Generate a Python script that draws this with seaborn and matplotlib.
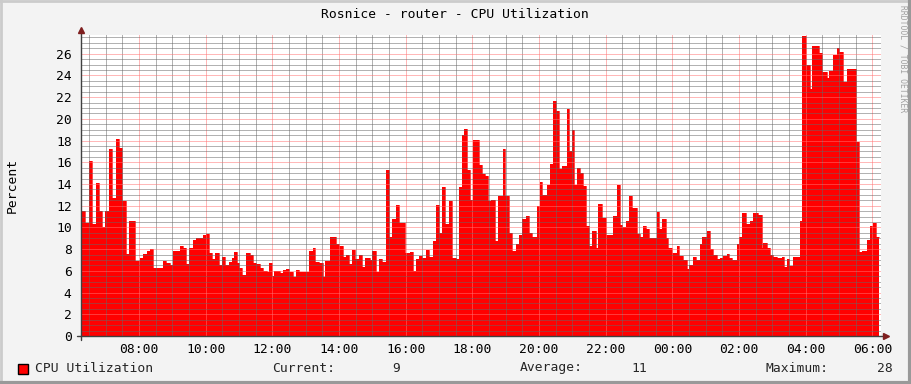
import numpy as np
import pandas as pd
import matplotlib
matplotlib.use("Agg")
import matplotlib.pyplot as plt
import matplotlib.dates as mdates
from matplotlib.ticker import MultipleLocator
from matplotlib.patches import Rectangle
from matplotlib.lines import Line2D
import seaborn as sns

# ---------------- data ----------------
title = "Rosnice - router - CPU Utilization"
series_name = "CPU Utilization"
y_label = "Percent"
watermark = "RRDTOOL / TOBI OETIKER"
stat_labels = ["Current:", "Average:", "Maximum:"]
stat_values = ["9", "11", "28"]

times = [
    "06:15", "06:17", "06:23", "06:30", "06:35", "06:43", "06:48", "06:53", "06:59", "07:06",
    "07:11", "07:19", "07:24", "07:29", "07:37", "07:42", "07:53", "08:02", "08:07", "08:14",
    "08:20", "08:25", "08:43", "08:49", "08:56", "09:01", "09:14", "09:19", "09:25", "09:30",
    "09:37", "09:43", "09:55", "10:01", "10:06", "10:11", "10:17", "10:24", "10:29", "10:35",
    "10:42", "10:47", "10:51", "10:56", "11:00", "11:05", "11:13", "11:20", "11:25", "11:31",
    "11:38", "11:43", "11:50", "11:54", "11:59", "12:03", "12:14", "12:19", "12:25", "12:30",
    "12:37", "12:43", "12:48", "13:06", "13:13", "13:17", "13:24", "13:31", "13:35", "13:44",
    "13:55", "14:00", "14:07", "14:13", "14:18", "14:23", "14:29", "14:36", "14:41", "14:47",
    "14:56", "14:59", "15:07", "15:12", "15:17", "15:25", "15:30", "15:35", "15:43", "15:48",
    "15:59", "16:08", "16:13", "16:19", "16:24", "16:29", "16:37", "16:42", "16:49", "16:55",
    "17:00", "17:05", "17:11", "17:18", "17:23", "17:31", "17:36", "17:41", "17:45", "17:50",
    "17:56", "18:01", "18:12", "18:17", "18:23", "18:28", "18:34", "18:41", "18:46", "18:55",
    "18:59", "19:06", "19:11", "19:19", "19:24", "19:29", "19:37", "19:42", "19:47", "19:56",
    "20:02", "20:05", "20:14", "20:20", "20:25", "20:31", "20:36", "20:41", "20:50", "20:54",
    "20:59", "21:03", "21:08", "21:14", "21:19", "21:25", "21:30", "21:35", "21:43", "21:46",
    "21:53", "22:01", "22:13", "22:20", "22:26", "22:29", "22:37", "22:42", "22:47", "22:56",
    "23:02", "23:07", "23:13", "23:18", "23:32", "23:36", "23:41", "23:49", "23:52", "23:59",
    "00:08", "00:12", "00:19", "00:26", "00:30", "00:37", "00:43", "00:50", "00:53", "01:02",
    "01:08", "01:13", "01:20", "01:26", "01:31", "01:38", "01:42", "01:47", "01:56", "02:00",
    "02:05", "02:13", "02:20", "02:25", "02:34", "02:41", "02:43", "02:50", "02:56", "03:01",
    "03:08", "03:17", "03:21", "03:26", "03:30", "03:37", "03:50", "03:53", "04:01", "04:08",
    "04:11", "04:24", "04:29", "04:38", "04:42", "04:49", "04:56", "05:00", "05:07", "05:14",
    "05:31", "05:36", "05:41", "05:50", "05:56", "06:01", "06:07", "06:12",
]
cpu = [
    9.15, 11.5, 10.4, 16.1, 10.3, 14.1, 11.5, 10.0, 11.5, 17.2,
    12.7, 18.1, 17.3, 12.4, 7.55, 10.6, 6.95, 7.15, 7.55, 7.85,
    8.05, 6.3, 6.9, 6.7, 6.5, 7.85, 8.3, 8.1, 6.6, 8.1,
    8.85, 9.05, 9.3, 9.4, 7.6, 7.05, 7.65, 6.5, 7.25, 6.55,
    6.85, 7.2, 7.7, 6.75, 6.25, 5.6, 7.6, 7.45, 6.7, 6.6,
    6.3, 6.0, 5.85, 6.7, 5.5, 6.0, 5.8, 6.1, 6.2, 5.85,
    5.4, 6.1, 5.85, 7.8, 8.1, 6.85, 6.7, 5.4, 6.9, 9.1,
    8.5, 8.3, 7.3, 7.45, 6.65, 7.9, 7.05, 7.5, 6.4, 7.2,
    7.0, 7.8, 5.85, 7.05, 6.85, 15.3, 9.15, 10.8, 12.1, 10.45,
    7.6, 7.7, 6.0, 7.05, 7.35, 7.2, 7.9, 7.3, 8.75, 12.1,
    9.5, 13.7, 10.3, 12.45, 7.2, 7.05, 13.7, 18.5, 19.05, 15.25,
    12.55, 18.05, 15.75, 14.9, 14.75, 12.4, 12.5, 8.75, 12.85, 17.2,
    12.9, 9.45, 7.85, 8.5, 9.3, 10.75, 11.05, 9.45, 9.1, 12.0,
    14.2, 13.0, 13.9, 15.85, 21.65, 20.75, 15.4, 15.7, 20.9, 17.0,
    19.0, 13.9, 15.45, 15.0, 13.85, 10.1, 8.3, 9.7, 8.1, 12.2,
    10.85, 9.3, 11.05, 13.9, 10.25, 10.0, 10.6, 12.9, 11.8, 9.4,
    9.1, 10.15, 9.85, 9.0, 11.45, 9.85, 10.8, 9.0, 8.1, 7.6,
    8.3, 7.35, 7.0, 6.2, 6.5, 7.25, 7.0, 8.5, 9.15, 9.7,
    8.0, 7.45, 7.05, 7.15, 7.35, 7.55, 7.2, 7.0, 8.5, 9.1,
    11.35, 10.3, 10.6, 11.35, 11.15, 8.15, 8.55, 8.15, 7.45, 7.3,
    7.15, 7.3, 6.4, 7.1, 6.45, 7.3, 10.6, 27.65, 25.0, 22.75,
    26.7, 26.1, 24.3, 23.8, 24.4, 25.85, 26.5, 26.2, 23.35, 24.6,
    17.9, 7.7, 7.85, 8.8, 10.15, 10.45, 9.15, 9.15,
]

# timestamps: the window wraps past midnight
base = pd.Timestamp("2000-01-01")
stamps = []
day = 0
prev = None
for s in times:
    td = pd.Timedelta(hours=int(s[:2]), minutes=int(s[3:]))
    if prev is not None and td < prev:
        day += 1
    prev = td
    stamps.append(base + pd.Timedelta(days=day) + td)
df = pd.DataFrame({"time": stamps, "cpu": cpu})

x_start = base + pd.Timedelta(hours=6, minutes=15, seconds=36)
x_end = x_start + pd.Timedelta(hours=24)
y_max = 27.72

# ---------------- style ----------------
sns.set_style("white")
plt.rcParams["font.family"] = ["DejaVu Sans Mono"]
FS = 9.4

W, H = 911, 384
fig = plt.figure(figsize=(W / 100, H / 100), dpi=100, facecolor="#F3F3F3")
L, R, T, B = 81, 881, 35, 336
ax = fig.add_axes([L / W, 1 - B / H, (R - L) / W, (B - T) / H])
ax.set_facecolor("white")

ax.fill_between(df["time"], 0, df["cpu"], step="post", color="#FF0000", lw=0, zorder=1)
sns.lineplot(data=df, x="time", y="cpu", drawstyle="steps-post", color="#FF0000",
             lw=0.5, ax=ax, zorder=1.5, legend=False)

ax.set_xlim(x_start, x_end)
ax.set_ylim(0, y_max)
ax.xaxis.set_major_locator(mdates.HourLocator(byhour=range(0, 24, 2)))
ax.xaxis.set_major_formatter(mdates.DateFormatter("%H:%M"))
ax.xaxis.set_minor_locator(mdates.MinuteLocator(byminute=[0, 30]))
ax.yaxis.set_major_locator(MultipleLocator(2))
ax.yaxis.set_minor_locator(MultipleLocator(0.5))

ax.set_axisbelow(False)
ax.grid(which="minor", color=(0.4, 0.4, 0.4, 0.12), linestyle=(0, (1, 1)), lw=0.72)
ax.grid(which="major", color=(1.0, 0.45, 0.45, 0.55), linestyle=(0, (1, 1)), lw=0.72)

for sp in ax.spines.values():
    sp.set_visible(False)

ax.tick_params(axis="both", which="major", direction="out", length=2.2, width=0.8,
               color="#404040", labelsize=FS, labelcolor="black")
ax.tick_params(axis="x", which="major", pad=2.5)
ax.tick_params(axis="y", which="major", pad=4.5)
ax.tick_params(axis="x", which="minor", direction="out", length=1.5, width=0.8, color="#404040")
ax.tick_params(axis="y", which="minor", length=0)
ax.set_xlabel("")
ax.set_ylabel("")

# axis lines with arrows (RRDtool style)
ax.plot([0, 0], [-4 / 301, 1 + 4 / 301], transform=ax.transAxes, color="#404040",
        lw=1.0, clip_on=False, zorder=4)
ax.plot([-4 / 800, 1 + 4 / 800], [0, 0], transform=ax.transAxes, color="#404040",
        lw=1.0, clip_on=False, zorder=4)
ax.plot([0], [1 + 5 / 301], transform=ax.transAxes, marker="^", ms=4.5,
        color="#7F1F1F", clip_on=False, zorder=5)
ax.plot([1 + 5 / 800], [0], transform=ax.transAxes, marker=">", ms=4.5,
        color="#7F1F1F", clip_on=False, zorder=5)

# ---------------- texts ----------------
def fx(px):
    return px / W

def fy(py):
    return 1 - py / H

fig.text(fx(455), fy(14), title, ha="center", va="center", fontsize=FS, color="black")
fig.text(fx(12), fy(185), y_label, ha="center", va="center", rotation=90,
         fontsize=FS, color="black")
fig.text(fx(903), fy(5), watermark, ha="center", va="top", rotation=270,
         fontsize=5.8, color="#A0A0A0")

ly = 368
fig.add_artist(Rectangle((fx(17.5), fy(374)), 10 / W, 10.5 / H, facecolor="#FF0000",
                         edgecolor="black", lw=1.0))
fig.text(fx(35), fy(ly), series_name, ha="left", va="center", fontsize=FS)
fig.text(fx(272), fy(ly), stat_labels[0], ha="left", va="center", fontsize=FS)
fig.text(fx(400), fy(ly), stat_values[0], ha="right", va="center", fontsize=FS)
fig.text(fx(520), fy(ly), stat_labels[1], ha="left", va="center", fontsize=FS)
fig.text(fx(647), fy(ly), stat_values[1], ha="right", va="center", fontsize=FS)
fig.text(fx(766), fy(ly), stat_labels[2], ha="left", va="center", fontsize=FS)
fig.text(fx(893), fy(ly), stat_values[2], ha="right", va="center", fontsize=FS)

# 3D frame around the image
fig.add_artist(Line2D([0, 1], [1 - 1 / H, 1 - 1 / H], color="#CBCBCB", lw=2))
fig.add_artist(Line2D([1 / W, 1 / W], [0, 1], color="#CBCBCB", lw=2))
fig.add_artist(Line2D([0, 1], [1.5 / H, 1.5 / H], color="#999999", lw=3))
fig.add_artist(Line2D([1 - 1.5 / W, 1 - 1.5 / W], [0, 1], color="#999999", lw=3))

fig.savefig("out.png", dpi=100, facecolor=fig.get_facecolor())
